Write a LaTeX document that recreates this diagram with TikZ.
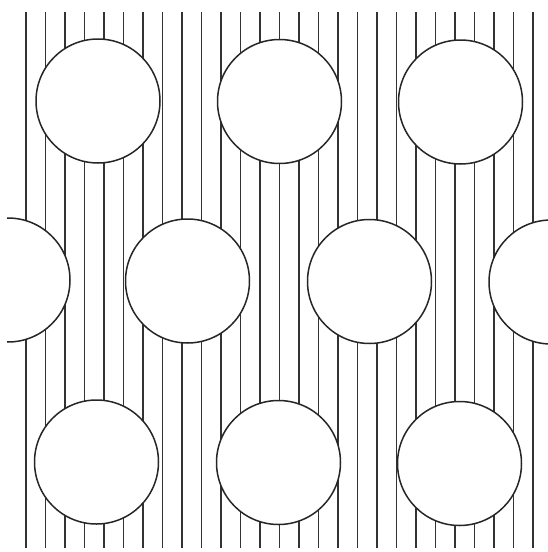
\documentclass[tikz,border=0pt]{standalone}
\begin{document}
\begin{tikzpicture}[x=1pt,y=-1pt,
  streamline/.style={line width=1.6pt,black!80},
  pore/.style={circle,draw=black!85,line width=1.5pt,fill=white,minimum size=124pt,inner sep=0pt}]
\useasboundingbox (0,0) rectangle (548,552);
% vertical lines
\foreach \k in {0,...,26}{
  \draw[streamline] ({26+19.5*\k},12) -- ({26+19.5*\k},548);
}
% circles
\node[pore] (a1) at (98,101) {};
\node[pore] (a2) at (279.5,101.5) {};
\node[pore] (a3) at (460.5,102) {};
\node[pore] (b2) at (187.5,281) {};
\node[pore] (b3) at (369.5,281.5) {};
\node[pore] (c1) at (96.5,462) {};
\node[pore] (c2) at (278.5,462.5) {};
\node[pore] (c3) at (459.5,463.5) {};
\begin{scope}
\clip (7,0) rectangle (548,552);
\node[pore] (b1) at (8,280) {};
\node[pore] (b4) at (551,282) {};
\end{scope}
\end{tikzpicture}
\end{document}
